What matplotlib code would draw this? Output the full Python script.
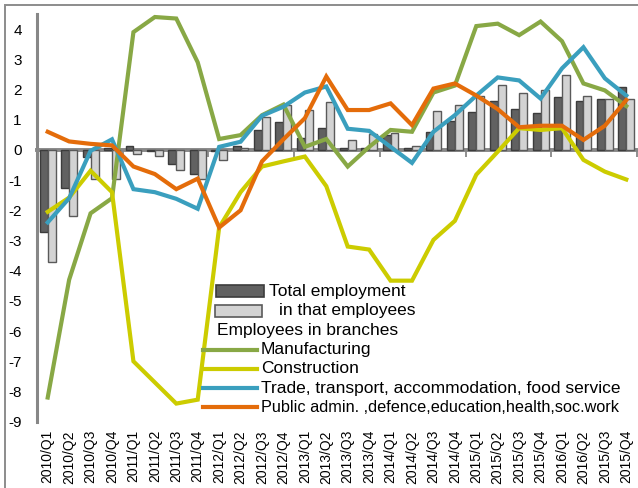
import matplotlib
matplotlib.use("Agg")
import matplotlib.pyplot as plt
import numpy as np
from matplotlib.patches import Rectangle
from matplotlib.lines import Line2D

plt.rcParams['font.family'] = ['Liberation Sans', 'DejaVu Sans']
plt.rcParams['axes.unicode_minus'] = False

quarters = ["2010/Q1", "2010/Q2", "2010/Q3", "2010/Q4",
            "2011/Q1", "2011/Q2", "2011/Q3", "2011/Q4",
            "2012/Q1", "2012/Q2", "2012/Q3", "2012/Q4",
            "2013/Q1", "2013/Q2", "2013/Q3", "2013/Q4",
            "2014/Q1", "2014/Q2", "2014/Q3", "2014/Q4",
            "2015/Q1", "2015/Q2", "2015/Q3", "2015/Q4",
            "2016/Q1", "2016/Q2", "2015/Q3", "2015/Q4"]

total_employment = [-2.73, -1.26, -0.22, 0.05, 0.13, -0.05, -0.47, -0.80,
                    -0.03, 0.13, 0.66, 0.92, 0.40, 0.72, 0.05, 0.05,
                    0.50, 0.05, 0.60, 0.95, 1.24, 1.63, 1.37, 1.23,
                    1.75, 1.62, 1.68, 2.07]
in_that_employees = [-3.72, -2.20, -0.95, -0.95, -0.15, -0.20, -0.68, -0.98,
                     -0.35, 0.05, 1.10, 1.48, 1.32, 1.60, 0.32, 0.53,
                     0.55, 0.12, 1.30, 1.50, 1.80, 2.14, 1.87, 2.00,
                     2.47, 1.80, 1.68, 1.68]

manufacturing = [-8.2, -4.3, -2.1, -1.6, 3.9, 4.4, 4.35, 2.9,
                 0.36, 0.49, 1.15, 1.5, 0.1, 0.36, -0.55, 0.1,
                 0.66, 0.6, 1.9, 2.13, 4.1, 4.18, 3.8, 4.25,
                 3.6, 2.2, 1.97, 1.45]
construction = [-2.05, -1.58, -0.69, -1.4, -7.0, -7.7, -8.4, -8.27,
                -2.57, -1.4, -0.55, -0.38, -0.22, -1.2, -3.2, -3.3,
                -4.33, -4.33, -2.98, -2.35, -0.82, -0.06, 0.72, 0.66,
                0.72, -0.33, -0.72, -0.98]
trade = [-2.4, -1.6, -0.03, 0.35, -1.3, -1.4, -1.62, -1.95,
         0.1, 0.27, 1.13, 1.43, 1.9, 2.1, 0.7, 0.63,
         0.1, -0.43, 0.6, 1.15, 1.8, 2.4, 2.3, 1.7,
         2.7, 3.4, 2.37, 1.8]
public = [0.6, 0.28, 0.2, 0.15, -0.55, -0.8, -1.3, -0.95,
          -2.57, -2.0, -0.38, 0.35, 1.05, 2.43, 1.32, 1.32,
          1.54, 0.82, 2.03, 2.2, 1.8, 1.35, 0.75, 0.8,
          0.8, 0.33, 0.8, 1.65]

bar_labels = ["Total employment", "in that employees"]
legend_header = "Employees in branches"
line_labels = ["Manufacturing", "Construction",
               "Trade, transport, accommodation, food service",
               "Public admin. ,defence,education,health,soc.work"]

c_dark, c_dark_edge = "#616161", "#3c3c3c"
c_light, c_light_edge = "#d3d3d3", "#5a5a5a"
line_colors = ["#88A845", "#CCCC00", "#3A9FBE", "#E46C0A"]
axis_grey = "#878787"

W, H = 638, 488
fig = plt.figure(figsize=(W / 100, H / 100), dpi=100)
ax = fig.add_axes([37 / W, (H - 421.7) / H, 600 / W, (421.7 - 14) / H])

x = np.arange(len(quarters))
bw = 0.37
ax.bar(x - bw / 2, total_employment, bw, color=c_dark, edgecolor=c_dark_edge, linewidth=1.0, zorder=2)
ax.bar(x + bw / 2, in_that_employees, bw, color=c_light, edgecolor=c_light_edge, linewidth=1.0, zorder=2)

for vals, col in zip([manufacturing, construction, trade, public], line_colors):
    ax.plot(x, vals, color=col, lw=3.0, solid_joinstyle='miter', zorder=3)

ax.set_xlim(-0.5, len(quarters) - 0.5)
ax.set_ylim(-9, 4.5)
ax.set_yticks(np.arange(-9, 5, 1))
ax.tick_params(axis='y', length=0, labelsize=11, pad=11)
ax.set_xticks(x)
ax.set_xticklabels(quarters, rotation=90, fontsize=10)
ax.tick_params(axis='x', length=0, pad=6)
for s in ['top', 'right', 'bottom']:
    ax.spines[s].set_visible(False)
ax.spines['left'].set_color(axis_grey)
ax.spines['left'].set_linewidth(2.2)

sec = ax.secondary_xaxis(0, transform=ax.transData)
sec.set_xticks(np.arange(3.5, len(quarters), 4))
sec.tick_params(axis='x', length=5, width=1.3, color=axis_grey, labelbottom=False, direction='out')
sec.spines['bottom'].set_color(axis_grey)
sec.spines['bottom'].set_linewidth(2.8)

# outer chart-area border (partly cut off)
fig.add_artist(Rectangle((5 / W, -0.1), 1.2, (H - 5) / H + 0.1, transform=fig.transFigure,
                         fill=False, edgecolor="#8c8c8c", linewidth=1.4))

# manual legend
def fx(px):
    return px / W

def fy(py):
    return 1 - py / H

fs = 12.5
fig.add_artist(Rectangle((fx(216), fy(297)), 48 / W, 12 / H, transform=fig.transFigure,
                         facecolor=c_dark, edgecolor=c_dark_edge, linewidth=1.2))
fig.text(fx(269), fy(291.5), bar_labels[0], fontsize=fs, va='center', ha='left')
fig.add_artist(Rectangle((fx(215), fy(317)), 47 / W, 12 / H, transform=fig.transFigure,
                         facecolor=c_light, edgecolor=c_light_edge, linewidth=1.2))
fig.text(fx(279), fy(311), bar_labels[1], fontsize=fs, va='center', ha='left')
fig.text(fx(217), fy(330.5), legend_header, fontsize=fs, va='center', ha='left')
for k, (lab, col) in enumerate(zip(line_labels, line_colors)):
    yy = 349.5 + 19.3 * k
    fig.add_artist(Line2D([fx(203), fx(257)], [fy(yy), fy(yy)], transform=fig.transFigure,
                          color=col, lw=3.0))
    size = fs if k < 3 else 11.7
    fig.text(fx(261), fy(yy), lab, fontsize=size, va='center', ha='left')

fig.savefig("out.png", dpi=100)
